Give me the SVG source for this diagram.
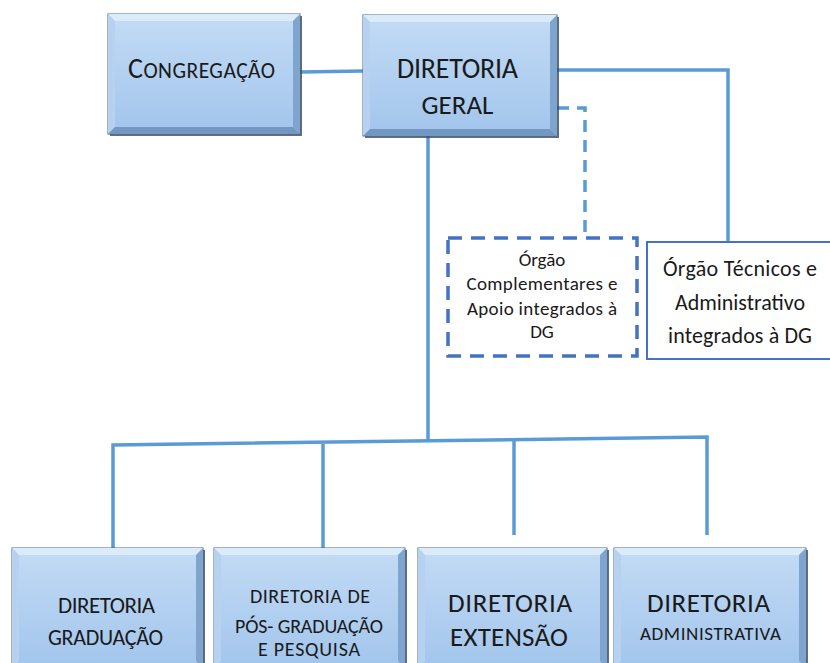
<svg xmlns="http://www.w3.org/2000/svg" width="830" height="663" viewBox="0 0 830 663">
<defs>
<linearGradient id="fill" x1="0" y1="0" x2="0" y2="1">
<stop offset="0" stop-color="#c3dbf5"/>
<stop offset="1" stop-color="#a2c5ec"/>
</linearGradient>
<style>
.frame{fill:url(#fill);stroke:#4f6682;stroke-width:1}
.shadow{fill:#2e3f55;opacity:.75}
.bt{fill:#dcebfa}
.bl{fill:#b6d2f0}
.br{fill:#7fa4cd}
.bb{fill:#7397c1}
.t{font-family:Carlito,Lato,"Liberation Sans",sans-serif;fill:#1a1a1a;text-anchor:middle}
.conn{fill:none;stroke:#5b9bd5;stroke-width:3.5}
.dash{fill:none;stroke:#5b9bd5;stroke-width:3.5;stroke-dasharray:12 8}
</style>
</defs>
<rect width="830" height="663" fill="#ffffff"/>
<g id="connectors">
<path class="conn" d="M300,72 L364,71"/>
<path class="conn" d="M557,70 L728,70 L728,242"/>
<path class="dash" d="M557,108 L585,108 L585,236"/>
<path class="conn" d="M428,136 L428,440"/>
<path class="conn" d="M113,548 L113,445 L707,437 L707,535"/>
<path class="conn" d="M323,444 L323,548"/>
<path class="conn" d="M514,439 L514,535"/>
</g>
<g id="congregacao">
<rect class="shadow" x="110" y="16" width="192" height="120"/>
<rect class="frame" x="108" y="14" width="192" height="120"/>
<polygon class="bt" points="108,14 300,14 293,21 115,21"/>
<polygon class="bl" points="108,14 115,21 115,127 108,134"/>
<polygon class="br" points="300,14 300,134 293,127 293,21"/>
<polygon class="bb" points="108,134 115,127 293,127 300,134"/>
<text class="t" x="201.5" y="78" textLength="147"><tspan font-size="28">C</tspan><tspan font-size="21.5">ONGREGAÇÃO</tspan></text>
</g>
<g id="diretoria-geral">
<rect class="shadow" x="365" y="17" width="194" height="121"/>
<rect class="frame" x="363" y="15" width="194" height="121"/>
<polygon class="bt" points="363,15 557,15 550,22 370,22"/>
<polygon class="bl" points="363,15 370,22 370,129 363,136"/>
<polygon class="br" points="557,15 557,136 550,129 550,22"/>
<polygon class="bb" points="363,136 370,129 550,129 557,136"/>
<text class="t" x="457.5" y="78" font-size="28" textLength="121">DIRETORIA</text>
<text class="t" x="457.5" y="114" font-size="27">GERAL</text>
</g>
<g id="orgao-complementares">
<rect x="448" y="238" width="189" height="118" fill="#ffffff" stroke="#4472c4" stroke-width="3.5" stroke-dasharray="14 9"/>
<text class="t" x="542" y="266" font-size="19">Órgão</text>
<text class="t" x="542" y="290" font-size="19" textLength="151">Complementares e</text>
<text class="t" x="542" y="315" font-size="19" textLength="150">Apoio integrados à</text>
<text class="t" x="542" y="338" font-size="19">DG</text>
</g>
<g id="orgao-tecnicos">
<rect x="647" y="242" width="186" height="117" fill="#ffffff" stroke="#4472c4" stroke-width="2"/>
<text class="t" x="740" y="276" font-size="22" textLength="154">Órgão Técnicos e</text>
<text class="t" x="740" y="310" font-size="22" textLength="130">Administrativo</text>
<text class="t" x="740" y="343" font-size="22" textLength="144">integrados à DG</text>
</g>
<g id="diretoria-graduacao">
<rect class="shadow" x="14" y="550" width="191" height="120"/>
<rect class="frame" x="12" y="548" width="191" height="120"/>
<polygon class="bt" points="12,548 203,548 196,555 19,555"/>
<polygon class="bl" points="12,548 19,555 19,661 12,668"/>
<polygon class="br" points="203,548 203,668 196,661 196,555"/>
<text class="t" x="106.5" y="613" font-size="23" textLength="97">DIRETORIA</text>
<text class="t" x="105.5" y="645" font-size="22" textLength="115">GRADUAÇÃO</text>
</g>
<g id="diretoria-pos">
<rect class="shadow" x="216" y="550" width="191" height="120"/>
<rect class="frame" x="214" y="548" width="191" height="120"/>
<polygon class="bt" points="214,548 405,548 398,555 221,555"/>
<polygon class="bl" points="214,548 221,555 221,661 214,668"/>
<polygon class="br" points="405,548 405,668 398,661 398,555"/>
<text class="t" x="310" y="603" font-size="20" textLength="120">DIRETORIA DE</text>
<text class="t" x="309" y="633" font-size="20" textLength="148">PÓS- GRADUAÇÃO</text>
<text class="t" x="309" y="656" font-size="20" textLength="102">E PESQUISA</text>
</g>
<g id="diretoria-extensao">
<rect class="shadow" x="420" y="550" width="189" height="120"/>
<rect class="frame" x="418" y="548" width="189" height="120"/>
<polygon class="bt" points="418,548 607,548 600,555 425,555"/>
<polygon class="bl" points="418,548 425,555 425,661 418,668"/>
<polygon class="br" points="607,548 607,668 600,661 600,555"/>
<text class="t" x="510" y="612" font-size="27" textLength="124">DIRETORIA</text>
<text class="t" x="509" y="646" font-size="27" textLength="118">EXTENSÃO</text>
</g>
<g id="diretoria-administrativa">
<rect class="shadow" x="616" y="550" width="192" height="120"/>
<rect class="frame" x="614" y="548" width="192" height="120"/>
<polygon class="bt" points="614,548 806,548 799,555 621,555"/>
<polygon class="bl" points="614,548 621,555 621,661 614,668"/>
<polygon class="br" points="806,548 806,668 799,661 799,555"/>
<text class="t" x="708.5" y="612" font-size="27" textLength="123">DIRETORIA</text>
<text class="t" x="710.5" y="640" font-size="19" textLength="141">ADMINISTRATIVA</text>
</g>
</svg>
